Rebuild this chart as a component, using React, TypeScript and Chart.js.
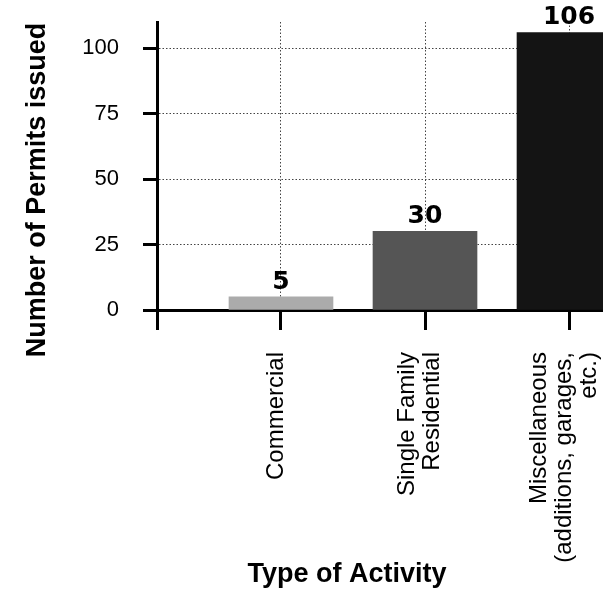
import { useEffect, useRef } from "react";
import { Chart, registerables } from "chart.js";

Chart.register(...registerables);

const categories: string[][] = [
  ["Commercial"],
  ["Single Family", "Residential"],
  ["Miscellaneous", "(additions, garages,", "etc.)"],
];
const permits = [5, 30, 106];
const yTicks = [0, 25, 50, 75, 100];
const barColors = ["#ababab", "#555555", "#141414"];
const yTitle = "Number of Permits issued";
const xTitle = "Type of Activity";

const textPlugin = {
  id: "texts",
  afterDraw(chart: any) {
    const ctx = chart.ctx as CanvasRenderingContext2D;
    const xs = chart.scales.x;
    const meta = chart.getDatasetMeta(0);
    ctx.save();
    ctx.fillStyle = "#000";

    // value labels above bars
    ctx.font = 'bold 25px "DejaVu Sans"';
    ctx.textAlign = "center";
    ctx.textBaseline = "alphabetic";
    meta.data.forEach((bar: any, i: number) => {
      ctx.fillText(String(permits[i]), bar.x, bar.y - 8);
    });

    // category labels (rotated, lines centred on tick)
    ctx.font = '24px "Liberation Sans"';
    const lh = 25;
    categories.forEach((lines, i) => {
      const px = xs.getPixelForValue(i + 1) - 5;
      ctx.save();
      ctx.translate(px, 352);
      ctx.rotate(-Math.PI / 2);
      ctx.textAlign = "right";
      ctx.textBaseline = "middle";
      lines.forEach((line, j) => {
        ctx.fillText(line, 0, (j - (lines.length - 1) / 2) * lh);
      });
      ctx.restore();
    });

    // axis titles
    ctx.font = 'bold 27px "Liberation Sans"';
    ctx.textAlign = "center";
    ctx.textBaseline = "alphabetic";
    ctx.fillText(xTitle, 347, 582);

    ctx.save();
    ctx.translate(45, 190);
    ctx.rotate(-Math.PI / 2);
    ctx.fillText(yTitle, 0, 0);
    ctx.restore();

    ctx.restore();
  },
};

export default function App() {
  const canvasRef = useRef<HTMLCanvasElement | null>(null);

  useEffect(() => {
    if (!canvasRef.current) return;
    const chart = new Chart(canvasRef.current, {
      type: "bar",
      data: {
        datasets: [
          {
            data: permits.map((v, i) => ({ x: i + 1, y: v })),
            backgroundColor: barColors,
            borderWidth: 0,
            barThickness: 104,
          },
        ],
      },
      options: {
        animation: false,
        responsive: true,
        maintainAspectRatio: false,
        layout: { padding: { top: 22, left: 0, right: 0, bottom: 0 } },
        plugins: {
          legend: { display: false },
          tooltip: { enabled: false },
        },
        scales: {
          x: {
            type: "linear",
            offset: false,
            min: 0.139,
            max: 3.236,
            afterBuildTicks: (s: any) => {
              s.ticks = [{ value: s.min }, ...categories.map((_, i) => ({ value: i + 1 }))];
            },
            ticks: { display: false },
            grid: {
              offset: false,
              color: (c: any) => (c.index === 0 ? "rgba(0,0,0,0)" : "#444"),
              lineWidth: 1,
              tickColor: "#000",
              tickWidth: 3,
              tickLength: 20,
              tickBorderDash: [],
            },
            border: { display: true, color: "#000", width: 3, dash: [1.5, 2] },
            afterFit: (s: any) => {
              s.height = 282;
              s.paddingLeft = 0;
              s.paddingRight = 0;
            },
          },
          y: {
            min: 0,
            max: 110,
            afterBuildTicks: (s: any) => {
              s.ticks = yTicks.map((v) => ({ value: v }));
            },
            ticks: {
              font: { family: "Liberation Sans", size: 22 },
              color: "#000",
              padding: 24,
            },
            grid: {
              color: "#444",
              lineWidth: 1,
              tickColor: "#000",
              tickWidth: 3,
              tickLength: 14,
              tickBorderDash: [],
            },
            border: { display: true, color: "#000", width: 3, dash: [1.5, 2] },
            afterFit: (s: any) => {
              s.width = 157;
              s.paddingTop = 0;
              s.paddingBottom = 0;
            },
          },
        },
      } as any,
      plugins: [textPlugin],
    });
    return () => chart.destroy();
  }, []);

  return (
    <div style={{ position: "fixed", left: 0, top: 0, width: 603, height: 592, background: "#fff" }}>
      <canvas ref={canvasRef} />
    </div>
  );
}
